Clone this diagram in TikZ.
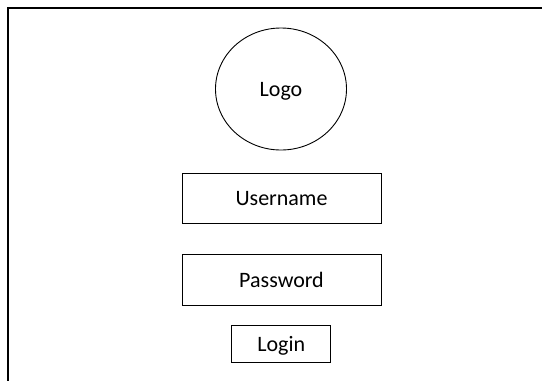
\documentclass[tikz,border=0pt]{standalone}
\usepackage{fontspec}
\setmainfont{Carlito}
\usetikzlibrary{shapes.geometric}

\def\boxlist{{(281.5,198)/user/Username/199/50}, {(281.5,280)/pass/Password/199/51}, {(281.3,344)/login/Login/99/37}}
\tikzstyle{frame} = [draw, line width=1.6pt, -]
\tikzstyle{field}=[draw,line width=0.9pt,rectangle,inner sep=0pt,text height=14pt,text depth=0pt]
\tikzstyle{logo-shape}=[draw,line width=0.9pt,ellipse,inner sep=0pt,text height=14pt,text depth=0pt,minimum width=131pt,minimum height=122pt]

\begin{document}
\begin{tikzpicture}[x=1pt,y=-1pt,font=\fontsize{22}{26}\selectfont]
  \useasboundingbox (0,0) rectangle (542,381);
  \path[frame] (545,8) -- (8,8) -- (8,384);

  \node[logo-shape] (logo) at (281,89) {Logo};

  \foreach \pos/\name/\txt/\w/\h in \boxlist {
    \node[field,minimum width=\w pt,minimum height=\h pt] (\name) at \pos {\txt};
  }
\end{tikzpicture}
\end{document}
